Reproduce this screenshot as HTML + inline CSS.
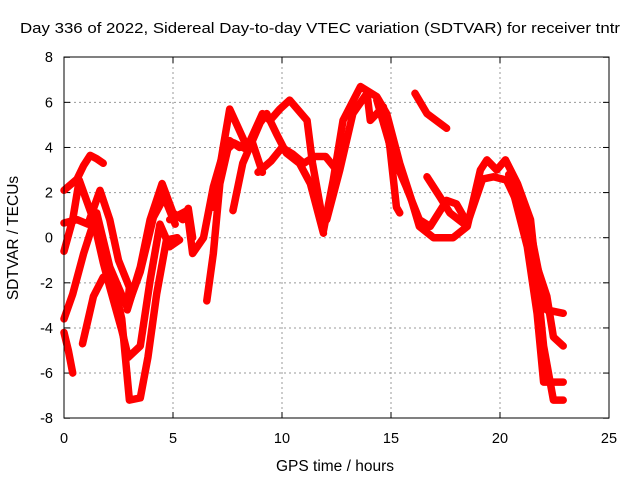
<!DOCTYPE html>
<html><head><meta charset="utf-8"><style>
body{margin:0;background:#fff}
svg{display:block;font-family:"Liberation Sans",sans-serif}
</style></head><body>
<svg id="chart" width="640" height="480">
<text x="320" y="33" font-size="15" text-anchor="middle" textLength="600" lengthAdjust="spacingAndGlyphs">Day 336 of 2022, Sidereal Day-to-day VTEC variation (SDTVAR) for receiver tntr</text>
<text x="335" y="471" font-size="15.5" text-anchor="middle">GPS time / hours</text>
<text transform="translate(18,238) rotate(-90)" font-size="15.5" text-anchor="middle">SDTVAR / TECUs</text>
<g id="grid"></g><g id="ticks"></g><g id="series"></g>
<rect x="64" y="57" width="545" height="361" fill="none" stroke="#000" stroke-width="1"/>
</svg>
<script>
const xTicks=[0,5,10,15,20,25];
const yTicks=[-8,-6,-4,-2,0,2,4,6,8];
const tracks=[
[[0,2.1],[0.6,2.6],[0.9,3.2],[1.2,3.65],[1.5,3.5],[1.8,3.3]],
[[0,0.65],[0.6,0.8],[1.1,0.6],[1.65,2.1],[2.1,0.8],[2.5,-1],[3.0,-2.2],[2.9,-3.2],[3.5,-1.3],[3.95,0.8],[4.5,2.4],[5,1.1],[5.45,0.8],[5.7,1.3],[5.9,0]],
[[0,-0.6],[0.4,0.8],[0.7,2.55],[1.35,0.8],[1.8,-1.1],[2.1,-2.2],[2.65,-4.1],[2.95,-5.3],[3.5,-4.8],[3.95,-1.9],[4.4,0.6],[4.85,-0.4],[5.3,-0.1]],
[[0,-3.6],[0.4,-2.5],[0.9,-0.7],[1.5,1.1],[2.1,-1.3],[2.9,-3.1],[3.5,-1.5],[4.1,0.9],[4.6,1.8],[5.1,0.6]],
[[0,-4.2],[0.2,-5],[0.4,-6.0]],
[[0.85,-4.7],[1.35,-2.6],[1.8,-1.75],[2.25,-1.9],[2.65,-3.6],[3.0,-7.2],[3.5,-7.1],[3.85,-5.3],[4.25,-2.5],[4.7,-0.1],[5.2,0]],
[[4.85,0.8],[5.65,1.2],[5.9,-0.7],[6.4,0],[6.85,2.25],[7.3,3.75],[7.8,4.2],[8.4,3.9]],
[[6.55,-2.8],[6.85,-0.7],[7.15,2.4],[7.6,4.3],[8.05,4.0],[8.65,4.2],[9.1,2.9]],
[[6.85,1.35],[7.3,4.0],[7.6,5.7],[8.05,4.75],[8.4,4.0],[9.1,5.5],[9.45,5.2],[9.9,5.7],[10.35,6.1],[11.15,5.2],[11.4,3.3],[11.9,0.6]],
[[7.75,1.2],[8.2,3.3],[9.0,5.1],[9.3,5.5],[9.75,4.6],[10.2,3.75],[10.8,3.3],[11.3,2.4],[11.9,0.2]],
[[8.9,2.9],[9.5,3.4],[10.0,4.0],[10.5,3.7],[11,3.3],[11.5,3.6],[12,3.6],[12.5,3.0]],
[[11.9,0.3],[12.35,2.55],[12.8,5.2],[13.6,6.7],[14.35,6.25],[14.8,5.5],[15.4,3.3],[15.9,1.8],[16.3,0.5],[16.95,0],[17.85,0],[18.5,0.5],[19.1,3.0],[19.4,3.45],[19.85,3.0],[20.25,3.45],[20.8,2.4],[21.4,0.8],[21.7,-1.9],[22.0,-4.8],[22.45,-7.2],[22.9,-7.2]],
[[12.05,0.8],[12.65,3.0],[13.25,5.5],[13.9,6.4],[14.05,5.2],[14.65,5.8],[14.95,4.0],[15.25,1.35],[15.4,1.1]],
[[14.35,6.1],[15.1,3.6],[15.7,2.25],[16.3,0.8],[16.8,0.5],[17.55,1.65],[18.0,1.5],[18.5,0.65]],
[[16.1,6.4],[16.65,5.5],[17.55,4.85]],
[[16.65,2.7],[17.25,1.8],[17.7,1.1],[18.3,0.65]],
[[18.6,0.9],[19.2,2.6],[19.7,2.7],[20.3,2.55],[21.4,0.3],[21.85,-1.9],[22.15,-3.2],[22.9,-3.35]],
[[20.6,2.2],[21.5,-0.7],[22.15,-2.6],[22.45,-4.4],[22.9,-4.8]],
[[20.4,2.8],[21.25,-0.4],[21.7,-3.35],[22.0,-6.4],[22.9,-6.4]]
];
const NS='http://www.w3.org/2000/svg';
const X=h=>64+h*21.8, Y=v=>237.7-v*22.56;
const grid=document.getElementById('grid'),ticks=document.getElementById('ticks'),ser=document.getElementById('series');
function mk(t,p,a){const e=document.createElementNS(NS,t);for(const k in a)e.setAttribute(k,a[k]);p.appendChild(e);return e;}
xTicks.forEach(t=>{
  if(t>0&&t<25){const g=mk('line',grid,{x1:X(t),x2:X(t),y1:57,y2:418,stroke:'#999','stroke-dasharray':'2,3'});
  
  }
  const l=mk('text',ticks,{x:X(t),y:443,'font-size':14.5,'text-anchor':'middle'});l.textContent=t;
  
  
  mk('line',ticks,{x1:X(t),x2:X(t),y1:418,y2:412,stroke:'#000'});mk('line',ticks,{x1:X(t),x2:X(t),y1:57,y2:63,stroke:'#000'});
});
yTicks.forEach(t=>{
  if(t>-8&&t<8){const g=mk('line',grid,{x1:64,x2:609,y1:Y(t),y2:Y(t),stroke:'#999','stroke-dasharray':'2,3'});
  
  }
  const l=mk('text',ticks,{x:53,y:Y(t)+5,'font-size':14.5,'text-anchor':'end'});l.textContent=t;
  
  
  mk('line',ticks,{x1:64,x2:70,y1:Y(t),y2:Y(t),stroke:'#000'});mk('line',ticks,{x1:609,x2:603,y1:Y(t),y2:Y(t),stroke:'#000'});
});
tracks.forEach(tr=>{
  const p=mk('polyline',ser,{points:tr.map(d=>X(d[0])+','+Y(d[1])).join(' '),fill:'none',stroke:'#f00','stroke-width':7.5,'stroke-linejoin':'round','stroke-linecap':'round'});
  
  
});
</script>
</body></html>
